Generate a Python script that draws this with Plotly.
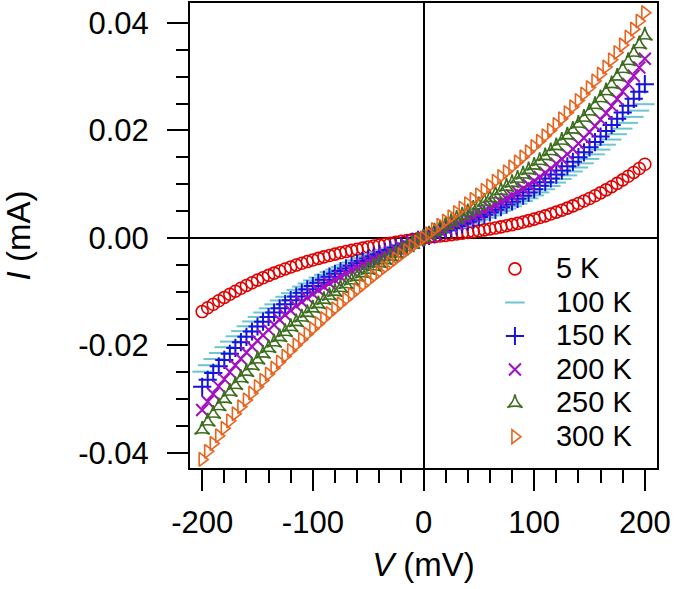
import plotly.graph_objects as go

# Bias voltage (mV)
voltage_mV = [-200, -195, -190, -185, -180, -175, -170, -165, -160, -155,
              -150, -145, -140, -135, -130, -125, -120, -115, -110, -105,
              -100, -95, -90, -85, -80, -75, -70, -65, -60, -55,
              -50, -45, -40, -35, -30, -25, -20, -15, -10, -5,
              0,
              5, 10, 15, 20, 25, 30, 35, 40, 45, 50,
              55, 60, 65, 70, 75, 80, 85, 90, 95, 100,
              105, 110, 115, 120, 125, 130, 135, 140, 145, 150,
              155, 160, 165, 170, 175, 180, 185, 190, 195, 200]

# Current (mA) for each temperature
i_5K = [-0.01370, -0.01300, -0.01233, -0.01169, -0.01107, -0.01048, -0.00991, -0.00937, -0.00884, -0.00834,
        -0.00786, -0.00741, -0.00697, -0.00655, -0.00615, -0.00577, -0.00540, -0.00505, -0.00472, -0.00440,
        -0.00410, -0.00381, -0.00353, -0.00327, -0.00301, -0.00277, -0.00254, -0.00232, -0.00211, -0.00190,
        -0.00170, -0.00151, -0.00133, -0.00115, -0.00098, -0.00081, -0.00064, -0.00048, -0.00032, -0.00016,
        0.0,
        0.00012, 0.00024, 0.00036, 0.00048, 0.00061, 0.00074, 0.00088, 0.00102, 0.00117, 0.00133,
        0.00149, 0.00167, 0.00185, 0.00205, 0.00226, 0.00248, 0.00271, 0.00296, 0.00322, 0.00350,
        0.00379, 0.00410, 0.00444, 0.00479, 0.00516, 0.00555, 0.00596, 0.00640, 0.00686, 0.00734,
        0.00785, 0.00838, 0.00894, 0.00953, 0.01015, 0.01080, 0.01148, 0.01218, 0.01292, 0.01370]

i_100K = [-0.02488, -0.02368, -0.02252, -0.02140, -0.02033, -0.01929, -0.01830, -0.01734, -0.01643, -0.01554,
          -0.01470, -0.01388, -0.01310, -0.01236, -0.01164, -0.01095, -0.01029, -0.00966, -0.00905, -0.00847,
          -0.00791, -0.00737, -0.00686, -0.00637, -0.00589, -0.00544, -0.00500, -0.00457, -0.00417, -0.00377,
          -0.00339, -0.00302, -0.00266, -0.00230, -0.00196, -0.00162, -0.00129, -0.00097, -0.00064, -0.00032,
          0.0,
          0.00032, 0.00064, 0.00097, 0.00129, 0.00162, 0.00196, 0.00230, 0.00266, 0.00302, 0.00339,
          0.00377, 0.00417, 0.00457, 0.00500, 0.00544, 0.00589, 0.00637, 0.00686, 0.00737, 0.00791,
          0.00847, 0.00905, 0.00966, 0.01029, 0.01095, 0.01164, 0.01236, 0.01310, 0.01388, 0.01470,
          0.01554, 0.01643, 0.01734, 0.01830, 0.01929, 0.02033, 0.02140, 0.02252, 0.02368, 0.02488]

i_150K = [-0.02770, -0.02638, -0.02511, -0.02388, -0.02269, -0.02155, -0.02046, -0.01940, -0.01839, -0.01741,
          -0.01648, -0.01558, -0.01471, -0.01389, -0.01309, -0.01232, -0.01159, -0.01089, -0.01021, -0.00956,
          -0.00894, -0.00834, -0.00776, -0.00721, -0.00668, -0.00617, -0.00567, -0.00519, -0.00473, -0.00429,
          -0.00385, -0.00343, -0.00302, -0.00263, -0.00223, -0.00185, -0.00147, -0.00110, -0.00073, -0.00037,
          0.0,
          0.00037, 0.00073, 0.00110, 0.00147, 0.00185, 0.00224, 0.00263, 0.00303, 0.00344, 0.00387,
          0.00431, 0.00476, 0.00523, 0.00571, 0.00621, 0.00674, 0.00728, 0.00785, 0.00844, 0.00905,
          0.00969, 0.01036, 0.01106, 0.01178, 0.01254, 0.01333, 0.01416, 0.01502, 0.01592, 0.01686,
          0.01783, 0.01885, 0.01991, 0.02101, 0.02215, 0.02335, 0.02459, 0.02587, 0.02721, 0.02860]

i_200K = [-0.03200, -0.03049, -0.02903, -0.02762, -0.02626, -0.02496, -0.02370, -0.02249, -0.02133, -0.02021,
          -0.01913, -0.01810, -0.01710, -0.01615, -0.01523, -0.01435, -0.01350, -0.01269, -0.01191, -0.01116,
          -0.01044, -0.00974, -0.00907, -0.00843, -0.00781, -0.00722, -0.00664, -0.00609, -0.00555, -0.00503,
          -0.00452, -0.00403, -0.00355, -0.00308, -0.00262, -0.00217, -0.00173, -0.00129, -0.00086, -0.00043,
          0.0,
          0.00043, 0.00086, 0.00129, 0.00173, 0.00218, 0.00263, 0.00309, 0.00356, 0.00405, 0.00454,
          0.00506, 0.00558, 0.00613, 0.00670, 0.00729, 0.00790, 0.00853, 0.00919, 0.00988, 0.01060,
          0.01135, 0.01213, 0.01294, 0.01379, 0.01467, 0.01559, 0.01655, 0.01755, 0.01860, 0.01969,
          0.02082, 0.02200, 0.02323, 0.02451, 0.02584, 0.02722, 0.02866, 0.03016, 0.03171, 0.03332]

i_250K = [-0.03570, -0.03420, -0.03276, -0.03135, -0.02999, -0.02867, -0.02740, -0.02616, -0.02496, -0.02380,
          -0.02267, -0.02158, -0.02053, -0.01950, -0.01851, -0.01755, -0.01662, -0.01572, -0.01484, -0.01399,
          -0.01316, -0.01236, -0.01158, -0.01082, -0.01008, -0.00936, -0.00866, -0.00797, -0.00730, -0.00664,
          -0.00600, -0.00536, -0.00474, -0.00413, -0.00352, -0.00292, -0.00233, -0.00175, -0.00116, -0.00058,
          0.0,
          0.00058, 0.00116, 0.00175, 0.00233, 0.00293, 0.00353, 0.00414, 0.00476, 0.00538, 0.00603,
          0.00668, 0.00735, 0.00803, 0.00874, 0.00946, 0.01020, 0.01097, 0.01175, 0.01256, 0.01340,
          0.01426, 0.01516, 0.01608, 0.01703, 0.01802, 0.01903, 0.02009, 0.02118, 0.02231, 0.02348,
          0.02468, 0.02593, 0.02723, 0.02856, 0.02995, 0.03138, 0.03286, 0.03439, 0.03597, 0.03760]

i_300K = [-0.04120, -0.03970, -0.03823, -0.03680, -0.03540, -0.03403, -0.03270, -0.03140, -0.03013, -0.02888,
          -0.02767, -0.02649, -0.02533, -0.02419, -0.02309, -0.02200, -0.02094, -0.01990, -0.01889, -0.01789,
          -0.01691, -0.01595, -0.01501, -0.01408, -0.01317, -0.01228, -0.01140, -0.01053, -0.00967, -0.00883,
          -0.00799, -0.00717, -0.00635, -0.00554, -0.00474, -0.00394, -0.00315, -0.00236, -0.00157, -0.00078,
          0.0,
          0.00078, 0.00157, 0.00236, 0.00315, 0.00394, 0.00474, 0.00554, 0.00636, 0.00718, 0.00800,
          0.00884, 0.00969, 0.01055, 0.01143, 0.01232, 0.01322, 0.01414, 0.01507, 0.01603, 0.01700,
          0.01799, 0.01900, 0.02004, 0.02109, 0.02217, 0.02328, 0.02441, 0.02557, 0.02675, 0.02796,
          0.02921, 0.03048, 0.03179, 0.03313, 0.03450, 0.03590, 0.03735, 0.03883, 0.04034, 0.04190]

series_names = ["5 K", "100 K", "150 K", "200 K", "250 K", "300 K"]
series_values = [i_5K, i_100K, i_150K, i_200K, i_250K, i_300K]

x_tickvals = [-200, -100, 0, 100, 200]
x_ticktext = ["-200", "-100", "0", "100", "200"]
y_tickvals = [-0.04, -0.02, 0.0, 0.02, 0.04]
y_ticktext = ["-0.04", "-0.02", "0.00", "0.02", "0.04"]

styles = [
    dict(symbol="circle-open", color="#e00000", size=12, lw=1.6),
    dict(symbol="line-ew-open", color="#6cc6d0", size=14, lw=2),
    dict(symbol="cross-thin-open", color="#1414dc", size=13, lw=2),
    dict(symbol="x-thin-open", color="#a010c0", size=12, lw=2),
    dict(symbol="star-triangle-up-open", color="#3c6e1e", size=11, lw=1.6),
    dict(symbol="triangle-right-open", color="#e8641e", size=12, lw=1.6),
]

FONT = "Liberation Sans, Arial, sans-serif"

fig = go.Figure()
for name, vals, st in zip(series_names, series_values, styles):
    fig.add_trace(go.Scatter(
        x=voltage_mV, y=vals, mode="markers",
        name='<span style="font-size:29px">' + name + '</span>',
        marker=dict(symbol=st["symbol"], size=st["size"], color=st["color"],
                    line=dict(color=st["color"], width=st["lw"])),
    ))

axis_common = dict(
    showline=True, linecolor="black", linewidth=2, mirror=True,
    ticks="outside", ticklen=21, tickwidth=2, tickcolor="black",
    showgrid=False, zeroline=True, zerolinecolor="black", zerolinewidth=2,
    tickfont=dict(family=FONT, size=31, color="black"),
    automargin=False,
)

fig.update_layout(
    width=675, height=589,
    margin=dict(l=190, r=18, t=3, b=121),
    paper_bgcolor="white", plot_bgcolor="white",
    font=dict(family=FONT, color="black"),
    xaxis=dict(range=[-211, 211], tickvals=x_tickvals, ticktext=x_ticktext,
               minor=dict(ticks="outside", ticklen=13, tickwidth=2, tickcolor="black", dtick=20),
               ticklabelstandoff=5,
               title=dict(text="<i>V</i> (mV)", font=dict(family=FONT, size=33, color="black"), standoff=14),
               **axis_common),
    yaxis=dict(range=[-0.0428, 0.0437], tickvals=y_tickvals, ticktext=y_ticktext,
               minor=dict(ticks="outside", ticklen=12, tickwidth=2, tickcolor="black", dtick=0.005),
               ticklabelstandoff=12,
               title=dict(text="<i>I</i> (mA)", font=dict(family=FONT, size=33, color="black"), standoff=40),
               **axis_common),
    legend=dict(x=0.608, y=0.475, xanchor="left", yanchor="top",
                font=dict(family=FONT, size=23.5, color="black"),
                bgcolor="rgba(0,0,0,0)", tracegroupgap=0, itemwidth=72),
    showlegend=True,
)

fig.write_html("out.html", config={"displayModeBar": False},
               post_script="document.body.style.margin='0px';")
